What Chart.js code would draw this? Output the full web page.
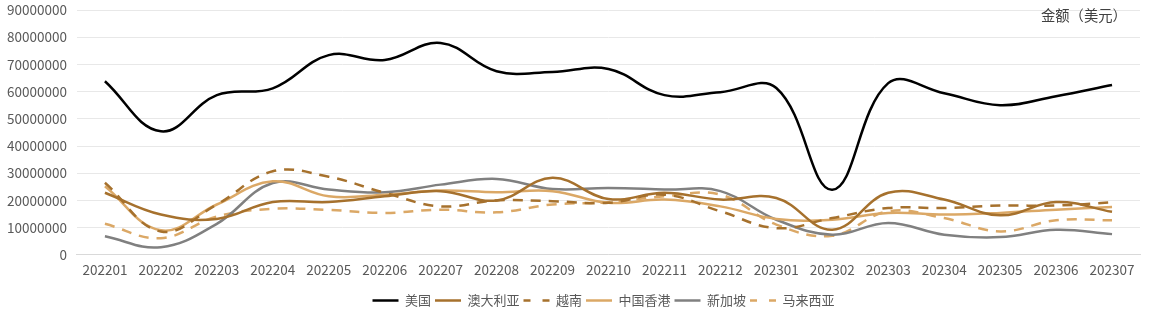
<!DOCTYPE html>
<html>
<head>
<meta charset="utf-8">
<script src="https://cdn.jsdelivr.net/npm/chart.js@4"></script>
<style>
  html, body { margin:0; padding:0; background:#fff; }
  #wrap { position:relative; width:1155px; height:328px; }
  #unit { position:absolute; left:1041px; top:4px; font-family:"Noto Sans CJK SC", sans-serif; font-size:14.3px; color:#404040; white-space:nowrap; }
</style>
</head>
<body>
<div id="wrap">
  <canvas id="c" width="1155" height="328"></canvas>
  <div id="unit">金额（美元）</div>
</div>
<script>
const categories = ["202201","202202","202203","202204","202205","202206","202207","202208","202209","202210","202211","202212","202301","202302","202303","202304","202305","202306","202307"];
const usa       = [63800000,45400000,58700000,61200000,73400000,71600000,77900000,67500000,67200000,68300000,58700000,59800000,61300000,23900000,63100000,59400000,55000000,58300000,62400000];
const australia = [22800000,14800000,13200000,19400000,19400000,21500000,23400000,20000000,28300000,20500000,22800000,20300000,20900000,9200000,22800000,20300000,14500000,19400000,15800000];
const vietnam   = [26500000,8600000,18500000,30700000,28700000,22800000,17800000,20000000,19700000,19100000,22100000,16000000,9800000,13500000,17200000,17200000,18100000,18100000,19300000];
const hongkong  = [25200000,9000000,18500000,27000000,21500000,22100000,23600000,23000000,23400000,19100000,20300000,17800000,13200000,12900000,15400000,14800000,15400000,16600000,17600000];
const singapore = [6800000,2800000,11400000,26400000,24000000,23000000,25800000,27900000,24200000,24600000,24000000,23400000,12900000,7400000,11700000,7400000,6500000,9200000,7600000];
const malaysia  = [11400000,6100000,14100000,16900000,16500000,15400000,16600000,15600000,18500000,19300000,21500000,22100000,11100000,7000000,16000000,13500000,8600000,12700000,12700000];
const yTicks = [0,10000000,20000000,30000000,40000000,50000000,60000000,70000000,80000000,90000000];

const FONT = '"Noto Sans CJK SC", "Noto Sans", sans-serif';
function ds(label, data, color, dash) {
  return {
    label, data,
    borderColor: color, backgroundColor: color,
    borderWidth: 2.5, borderDash: dash || [],
    pointRadius: 0, pointHoverRadius: 0, pointStyle: 'line',
    tension: 0.4, fill: false
  };
}
const shiftLegend = {
  id: 'shiftLegend',
  afterLayout(chart) {
    const l = chart.legend;
    if (l) { l.left += 35; l.right += 35; }
  }
};
new Chart(document.getElementById('c'), {
  type: 'line',
  data: {
    labels: categories,
    datasets: [
      ds('美国', usa, '#000000'),
      ds('澳大利亚', australia, '#A6712D'),
      ds('越南', vietnam, '#A6712D', [10, 8]),
      ds('中国香港', hongkong, '#DBA866'),
      ds('新加坡', singapore, '#808080'),
      ds('马来西亚', malaysia, '#DBA866', [10, 8])
    ]
  },
  plugins: [shiftLegend],
  options: {
    responsive: false,
    animation: false,
    layout: { padding: { left: -3, right: 15, top: 0, bottom: 11 } },
    plugins: {
      legend: {
        position: 'bottom',
        labels: {
          usePointStyle: true, pointStyleWidth: 26, boxHeight: 8,
          padding: 4,
          font: { family: FONT, size: 13 }, color: '#595959',
          generateLabels: (chart) => Chart.defaults.plugins.legend.labels.generateLabels(chart).map(l => {
            const d = chart.data.datasets[l.datasetIndex];
            return Object.assign(l, { lineDash: (d.borderDash && d.borderDash.length) ? [7, 12] : [], lineWidth: 2.5, strokeStyle: d.borderColor });
          })
        }
      },
      tooltip: { enabled: false }
    },
    scales: {
      x: {
        offset: true,
        grid: { display: false, drawTicks: false },
        border: { display: true, color: '#d9d9d9' },
        ticks: { font: { family: FONT, size: 13.5 }, color: '#595959', maxRotation: 0, autoSkip: false, padding: 7 },
        afterFit: (axis) => { axis.height += 5; }
      },
      y: {
        min: 0, max: 90000000,
        afterBuildTicks: (axis) => { axis.ticks = yTicks.map(v => ({ value: v })); },
        afterFit: (axis) => { axis.paddingTop = 10; },
        grid: { color: '#e8e8e8', drawTicks: false },
        border: { display: false },
        ticks: { font: { family: FONT, size: 13.5, lineHeight: 1.0 }, color: '#595959', padding: 10, callback: v => String(v) }
      }
    }
  }
});
</script>
</body>
</html>
